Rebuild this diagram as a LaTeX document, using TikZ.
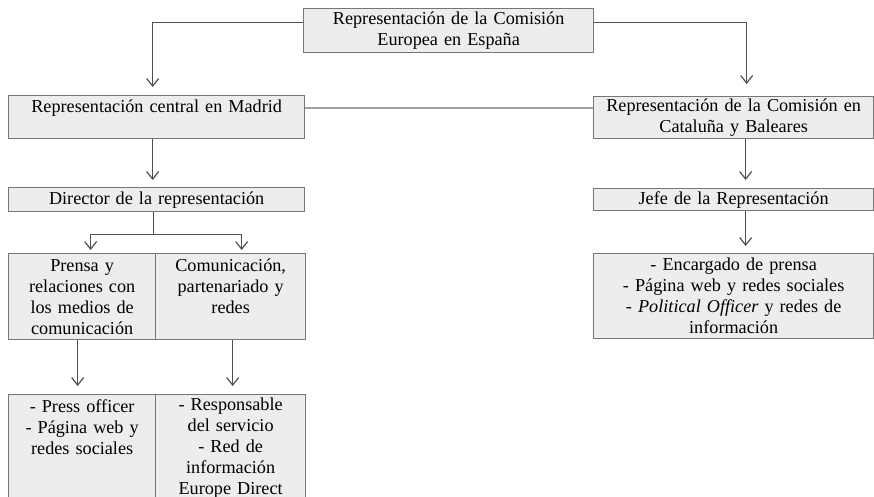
\documentclass[tikz,border=0pt]{standalone}
\usepackage{fontspec}
\setmainfont{Liberation Serif}
\usetikzlibrary{arrows.meta}
\definecolor{boxfill}{HTML}{EDEDED}
\definecolor{boxline}{HTML}{767676}
\definecolor{arrline}{HTML}{505050}
\definecolor{linkline}{HTML}{A0A0A0}
\begin{document}
\begin{tikzpicture}[x=1pt, y=-1pt,
    box/.style={draw=boxline, fill=boxfill, line width=1.3pt, anchor=north west,
        inner xsep=0pt, inner ysep=0pt, align=center, text=black,
        font=\fontsize{18.2}{21}\selectfont},
    arr/.style={draw=arrline, line width=1.2pt, -{Straight Barb[length=7.5pt, width=12pt]}}]
    \clip (0,0) rectangle (874,497);
    \node[box, text width=290pt, minimum height=44pt] (top) at (303,8)
        {Representación de la Comisión\\Europea en España};
    \node[box, text width=296pt, minimum height=43pt] (mad) at (8,95)
        {Representación central en Madrid\\~};
    \node[box, text width=280pt, minimum height=42pt] (cat) at (593,96)
        {Representación de la Comisión en\\Cataluña y Baleares};
    \node[box, text width=296pt, minimum height=24pt] (dir) at (8,187)
        {Director de la representación};
    \node[box, text width=280pt, minimum height=22pt] (jefe) at (593,188)
        {Jefe de la Representación};
    \node[box, text width=147pt, minimum height=86pt] (pren) at (8,253)
        {Prensa y\\relaciones con\\los medios de\\comunicación};
    \node[box, text width=150pt, minimum height=86pt] (comu) at (155,253)
        {Comunicación,\\partenariado y\\redes\\~};
    \node[box, text width=280pt, minimum height=85pt] (enc) at (593,253)
        {- Encargado de prensa\\- Página web y redes sociales\\- \textit{Political Officer} y redes de\\información};
    \node[box, text width=147pt, minimum height=106pt] (press) at (8,394)
        {- Press officer\\- Página web y\\redes sociales\\~\\~};
    \node[box, text width=150pt, minimum height=106pt] (resp) at (155,394)
        {- Responsable\\del servicio\\- Red de\\información\\Europe Direct};
    % enlaces
    \draw[arr] ([yshift=8pt]top.west) -| ([xshift=-4pt, yshift=8pt]mad.north);
    \draw[arr] ([yshift=8pt]top.east) -| ([xshift=13pt, yshift=12pt]cat.north);
    \draw[draw=linkline, line width=2pt] ([yshift=9.5pt]mad.east) -- ([yshift=9.5pt]mad.east -| cat.west);
    \draw[arr] ([xshift=-4pt]mad.south) -- ([xshift=-4pt, yshift=7pt]dir.north);
    \draw[arr] ([xshift=12pt]cat.south) -- ([xshift=12pt, yshift=8pt]jefe.north);
    \draw[arr] ([xshift=12pt]jefe.south) -- ([xshift=12pt, yshift=7pt]enc.north);
    \draw[draw=arrline, line width=1.2pt] ([xshift=-3pt]dir.south) -- ++(0,22) coordinate (split);
    \draw[arr] (split) -| ([xshift=8.5pt, yshift=3pt]pren.north);
    \draw[arr] (split) -| ([xshift=11pt, yshift=3pt]comu.north);
    \draw[arr] ([xshift=-4.5pt]pren.south) -- ([xshift=-4.5pt, yshift=8pt]press.north);
    \draw[arr] ([xshift=2pt]comu.south) -- ([xshift=2pt, yshift=8pt]resp.north);
\end{tikzpicture}
\end{document}
